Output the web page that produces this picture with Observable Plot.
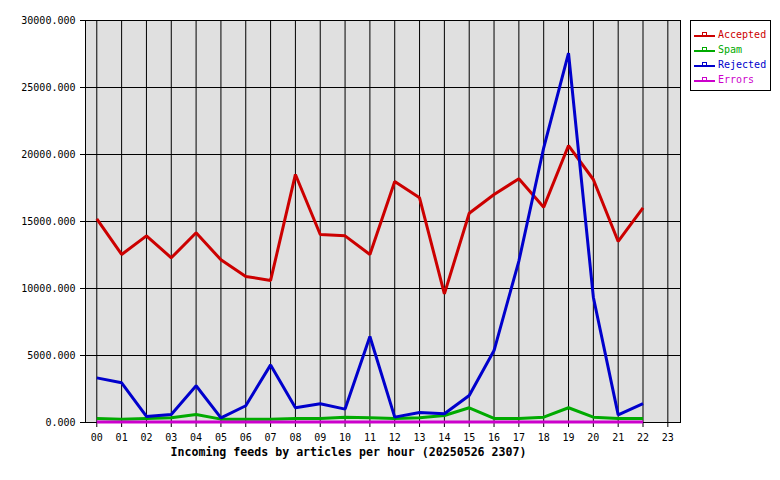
<!DOCTYPE html>
<html>
<head>
<meta charset="utf-8">
<script src="https://cdn.jsdelivr.net/npm/d3@7"></script>
<script src="https://cdn.jsdelivr.net/npm/@observablehq/plot@0.6"></script>
<style>
  html, body { margin: 0; padding: 0; background: #fff; }
  #wrap { position: relative; width: 780px; height: 480px; overflow: hidden; }
  #title { position: absolute; left: 0; width: 697px; top: 445px; text-align: center;
           font: bold 11.6px "DejaVu Sans Mono", monospace; color: #000; }
  #legend { position: absolute; left: 690px; top: 20px; width: 79px; height: 69px;
            border: 1px solid #000; background: #fff; }
  #legend .row { position: absolute; left: 3px; height: 14px; display: flex; align-items: center;
                 font: 10px "DejaVu Sans Mono", monospace; }
  #legend .swatch { position: relative; width: 21px; height: 8px; margin-right: 3px; }
  #legend .swatch .ln { position: absolute; left: 0; top: 5px; width: 21px; height: 2px; }
  #legend .swatch .mk { position: absolute; left: 8px; top: 2px; width: 3px; height: 3px; border-width: 1px; border-style: solid; border-bottom: none; }
</style>
</head>
<body>
<div id="wrap">
  <div id="chart"></div>
  <div id="title">Incoming feeds by articles per hour (20250526 2307)</div>
  <div id="legend"></div>
</div>
<script>
const hours = [0,1,2,3,4,5,6,7,8,9,10,11,12,13,14,15,16,17,18,19,20,21,22];
const tickHours = [0,1,2,3,4,5,6,7,8,9,10,11,12,13,14,15,16,17,18,19,20,21,22,23];
const tickLabels = ["00","01","02","03","04","05","06","07","08","09","10","11","12","13","14","15","16","17","18","19","20","21","22","23"];
const yTicks = [0,5000,10000,15000,20000,25000,30000];

const accepted = [15200,12540,13930,12290,14160,12140,10900,10600,18510,14030,13930,12540,17990,16770,9600,15620,17015,18190,16070,20670,18135,13510,16020];
const spam     = [300,250,300,350,600,250,250,250,300,300,400,350,300,350,520,1100,300,300,400,1100,400,300,300];
const rejected = [3330,2960,450,600,2740,350,1250,4300,1100,1400,1000,6420,400,750,650,2015,5370,12050,20500,27560,9350,570,1400];
const errors   = [40,40,40,40,40,40,40,40,40,40,40,40,40,40,40,40,40,40,40,40,40,40,40];

const seriesNames = ["Accepted","Spam","Rejected","Errors"];
const seriesColors = ["#cc0000","#00aa00","#0000cc","#cc00cc"];
const seriesValues = [accepted, spam, rejected, errors];

const data = [];
seriesNames.forEach((name, s) => {
  hours.forEach((h, i) => data.push({series: name, hour: h, value: seriesValues[s][i]}));
});

const lineMarks = seriesNames.map((name, s) =>
  Plot.line(data.filter(d => d.series === name), {
    x: "hour", y: "value", stroke: seriesColors[s], strokeWidth: 3,
    strokeLinejoin: "miter", strokeLinecap: "butt"
  })
);

const chart = Plot.plot({
  width: 780, height: 480,
  marginLeft: 85, marginRight: 100, marginTop: 20, marginBottom: 58,
  x: {type: "linear", domain: [-0.455, 23.51]},
  y: {domain: [0, 30000]},
  style: {fontFamily: "DejaVu Sans Mono, monospace", fontSize: "10px", color: "#000", background: "#fff", overflow: "visible"},
  marks: [
    Plot.frame({fill: "#e0e0e0", stroke: null}),
    Plot.gridX(tickHours, {stroke: "#000", strokeOpacity: 1, strokeWidth: 1}),
    Plot.gridY(yTicks, {stroke: "#000", strokeOpacity: 1, strokeWidth: 1}),
    Plot.frame({stroke: "#000"}),
    Plot.axisX(tickHours, {tickFormat: i => tickLabels[i], tickSize: 5, tickPadding: 6, label: null, stroke: "#000", fill: "#000"}),
    Plot.axisY(yTicks, {tickFormat: d => d.toFixed(3), tickSize: 5, tickPadding: 5, label: null, stroke: "#000", fill: "#000"}),
    ...lineMarks
  ]
});
document.getElementById("chart").appendChild(chart);

const legend = document.getElementById("legend");
seriesNames.forEach((name, s) => {
  const c = seriesColors[s];
  const row = document.createElement("div");
  row.className = "row";
  row.style.top = (6 + s * 15) + "px";
  row.innerHTML = `<div class="swatch"><div class="ln" style="background:${c}"></div><div class="mk" style="border-color:${c}"></div></div><span style="color:${c}">${name}</span>`;
  legend.appendChild(row);
});
</script>
</body>
</html>
